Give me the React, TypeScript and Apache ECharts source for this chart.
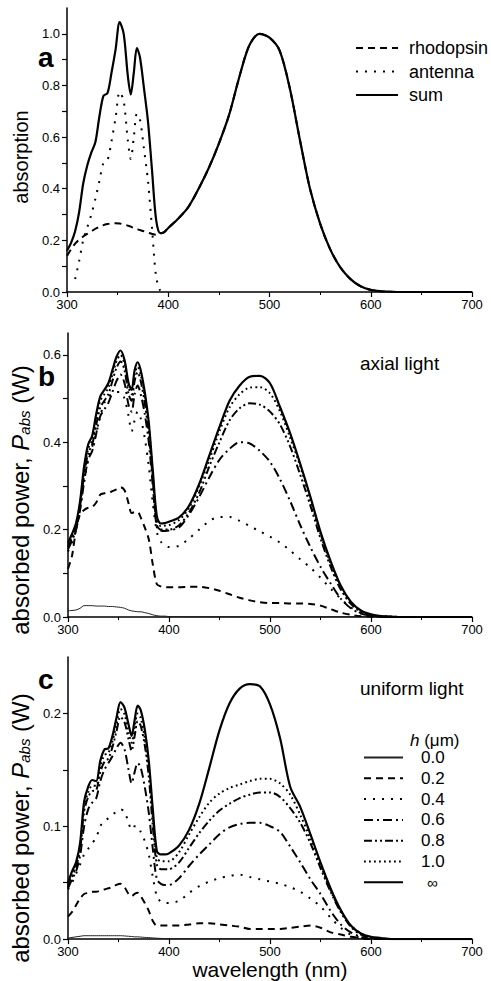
import React, { useEffect, useRef } from "react";
import * as echarts from "echarts";

const FONT = "'Liberation Sans', Arial, Helvetica, sans-serif";

// wavelength grid (nm)
const wavelength = [300,304,308,312,316,320,324,328,332,336,340,344,348,352,356,360,363,366,369,372,376,380,384,388,392,396,400,410,420,430,440,450,460,470,480,490,500,510,520,530,540,550,560,570,580,590,600,610,620,630,640,650,660,670,680,690,700];

// ---- panel a: absorption ----
const aRhodopsin = [0.14,0.165,0.187,0.203,0.215,0.225,0.235,0.245,0.253,0.259,0.263,0.266,0.266,0.265,0.262,0.257,0.253,0.248,0.244,0.24,0.235,0.23,0.225,0.222,0.226,0.232,0.248,
  0.285,0.33,0.40,0.48,0.575,0.685,0.83,0.955,1.0,0.985,0.935,0.79,0.59,0.40,0.265,0.165,0.095,0.05,0.022,0.008,0.003,0.001,0,0,0,0,0,0,0,0];
const aAntenna = [null,null,0.05,0.12,0.2,0.25,0.3,0.36,0.43,0.5,0.51,0.585,0.675,0.775,0.74,0.59,0.515,0.6,0.69,0.67,0.555,0.43,0.245,0.058,0.005,null,null,
  null,null,null,null,null,null,null,null,null,null,null,null,null,null,null,null,null,null,null,null,null,null,null,null,null,null,null,null,null,null];
const aSum = [0.16,0.19,0.235,0.31,0.42,0.49,0.54,0.58,0.68,0.76,0.77,0.85,0.94,1.045,1.0,0.84,0.765,0.85,0.945,0.91,0.79,0.66,0.47,0.28,0.228,0.232,0.248,
  0.285,0.33,0.40,0.48,0.575,0.685,0.83,0.955,1.0,0.985,0.935,0.79,0.59,0.40,0.265,0.165,0.095,0.05,0.022,0.008,0.003,0.001,0,0,0,0,0,0,0,0];

// ---- panel b: axial light, absorbed power (W) ----
const bH00 = [0.014,0.015,0.016,0.02,0.026,0.026,0.026,0.025,0.025,0.025,0.024,0.024,0.023,0.022,0.02,0.016,0.014,0.013,0.012,0.012,0.01,0.008,0.005,0.003,0.002,0.002,0.001,
  0.001,0.001,0.001,0.001,0.001,0.001,0.001,0.001,0.001,0.001,0.001,0.001,0.001,0.001,0.001,0.001,0.001,0.001,0.001,0.001,0.001,0,0,0,0,0,0,0,0,0];
const bH02 = [0.11,0.14,0.2,0.235,0.245,0.25,0.252,0.262,0.28,0.283,0.284,0.288,0.292,0.297,0.29,0.26,0.238,0.24,0.24,0.228,0.205,0.178,0.12,0.075,0.07,0.068,0.068,
  0.068,0.069,0.069,0.066,0.06,0.052,0.044,0.038,0.034,0.032,0.032,0.031,0.031,0.03,0.026,0.018,0.01,0.005,0.002,0.001,0,0,0,0,0,0,0,0,0,0];
const bH04 = [0.15,0.17,0.2,0.25,0.31,0.36,0.39,0.42,0.46,0.49,0.505,0.51,0.515,0.515,0.5,0.46,0.425,0.45,0.47,0.455,0.41,0.345,0.26,0.195,0.172,0.164,0.16,
  0.163,0.18,0.2,0.22,0.229,0.229,0.22,0.208,0.196,0.184,0.17,0.152,0.132,0.113,0.09,0.065,0.042,0.022,0.009,0.003,0.001,0,0,0,0,0,0,0,0,0];
const bH06 = [0.155,0.175,0.2,0.245,0.31,0.36,0.38,0.42,0.46,0.475,0.49,0.515,0.54,0.555,0.535,0.485,0.47,0.51,0.53,0.51,0.465,0.4,0.3,0.205,0.198,0.197,0.198,
  0.205,0.235,0.275,0.32,0.36,0.385,0.4,0.397,0.38,0.355,0.315,0.265,0.21,0.16,0.115,0.077,0.042,0.02,0.008,0.003,0.001,0,0,0,0,0,0,0,0,0];
const bH08 = [0.16,0.18,0.205,0.255,0.325,0.375,0.395,0.44,0.48,0.495,0.51,0.54,0.57,0.585,0.565,0.51,0.495,0.54,0.56,0.54,0.49,0.42,0.315,0.21,0.2,0.2,0.2,
  0.21,0.24,0.285,0.345,0.4,0.45,0.478,0.489,0.486,0.47,0.44,0.39,0.325,0.255,0.18,0.115,0.063,0.03,0.012,0.004,0.001,0,0,0,0,0,0,0,0,0];
const bH10 = [0.165,0.185,0.21,0.26,0.335,0.385,0.405,0.455,0.495,0.51,0.525,0.555,0.585,0.6,0.578,0.525,0.51,0.555,0.573,0.555,0.505,0.435,0.325,0.22,0.208,0.209,0.21,
  0.222,0.25,0.3,0.36,0.425,0.48,0.51,0.525,0.526,0.512,0.47,0.41,0.345,0.268,0.19,0.122,0.068,0.032,0.013,0.005,0.002,0.001,0,0,0,0,0,0,0,0];
const bHInf = [0.17,0.19,0.215,0.265,0.345,0.395,0.415,0.465,0.505,0.52,0.535,0.565,0.595,0.61,0.588,0.535,0.52,0.565,0.583,0.565,0.515,0.445,0.335,0.23,0.214,0.215,0.218,
  0.228,0.255,0.305,0.37,0.435,0.495,0.53,0.55,0.552,0.535,0.48,0.42,0.35,0.275,0.195,0.128,0.072,0.035,0.015,0.006,0.002,0.001,0,0,0,0,0,0,0,0];

// ---- panel c: uniform light, absorbed power (W) ----
const cH00 = [0.001,0.0015,0.002,0.0025,0.003,0.003,0.003,0.003,0.003,0.003,0.003,0.003,0.003,0.003,0.0028,0.0025,0.0023,0.002,0.002,0.0018,0.0015,0.0013,0.001,0.0008,0.0006,0.0005,0.0005,
  0.0005,0.0005,0.0005,0.0005,0.0005,0.0005,0.0005,0.0005,0.0005,0.0005,0.0005,0.0005,0.0005,0.0005,0.0005,0.0005,0.0005,0.0005,0.0005,0.0005,0,0,0,0,0,0,0,0,0,0];
const cH02 = [0.02,0.024,0.03,0.036,0.04,0.041,0.042,0.042,0.043,0.044,0.045,0.046,0.048,0.049,0.046,0.04,0.038,0.04,0.041,0.038,0.032,0.025,0.016,0.012,0.012,0.012,0.012,
  0.012,0.013,0.014,0.014,0.013,0.012,0.011,0.009,0.009,0.009,0.009,0.01,0.011,0.012,0.01,0.006,0.004,0.002,0.001,0,0,0,0,0,0,0,0,0,0,0];
const cH04 = [0.044,0.05,0.058,0.066,0.075,0.08,0.085,0.09,0.1,0.105,0.107,0.11,0.113,0.115,0.113,0.103,0.097,0.1,0.1,0.095,0.087,0.075,0.055,0.038,0.033,0.032,0.032,
  0.034,0.041,0.047,0.051,0.054,0.056,0.057,0.055,0.053,0.051,0.049,0.046,0.042,0.036,0.029,0.019,0.01,0.004,0.001,0,0,0,0,0,0,0,0,0,0,0];
const cH06 = [0.045,0.053,0.06,0.074,0.1,0.115,0.121,0.125,0.14,0.15,0.156,0.162,0.169,0.174,0.168,0.15,0.138,0.148,0.156,0.152,0.135,0.112,0.08,0.053,0.049,0.048,0.048,
  0.054,0.065,0.075,0.084,0.093,0.099,0.102,0.103,0.103,0.1,0.095,0.082,0.068,0.053,0.04,0.025,0.013,0.006,0.002,0,0,0,0,0,0,0,0,0,0,0];
const cH08 = [0.046,0.055,0.064,0.079,0.113,0.126,0.131,0.132,0.148,0.157,0.16,0.17,0.184,0.197,0.192,0.177,0.167,0.18,0.193,0.189,0.172,0.144,0.1,0.066,0.062,0.062,0.062,
  0.068,0.081,0.094,0.105,0.114,0.12,0.125,0.128,0.13,0.13,0.126,0.116,0.103,0.085,0.063,0.042,0.024,0.011,0.004,0.001,0,0,0,0,0,0,0,0,0,0];
const cH10 = [0.048,0.058,0.066,0.082,0.118,0.13,0.136,0.136,0.153,0.163,0.165,0.175,0.19,0.204,0.199,0.183,0.174,0.188,0.2,0.196,0.178,0.15,0.108,0.072,0.069,0.069,0.069,
  0.077,0.093,0.108,0.121,0.129,0.134,0.137,0.14,0.142,0.142,0.138,0.128,0.11,0.089,0.066,0.043,0.025,0.012,0.005,0.001,0,0,0,0,0,0,0,0,0,0];
const cHInf = [0.05,0.06,0.068,0.085,0.122,0.135,0.141,0.14,0.158,0.168,0.169,0.18,0.196,0.21,0.205,0.19,0.18,0.194,0.207,0.203,0.186,0.158,0.115,0.078,0.075,0.075,0.076,
  0.083,0.097,0.12,0.152,0.185,0.209,0.222,0.226,0.224,0.208,0.178,0.135,0.117,0.093,0.068,0.045,0.026,0.012,0.005,0.002,0.001,0,0,0,0,0,0,0,0,0];

// ticks / labels
const yTicksA = [0,0.1,0.2,0.3,0.4,0.5,0.6,0.7,0.8,0.9,1.0];
const yLabelsA = [0,0.2,0.4,0.6,0.8,1.0];
const yTicksB = [0,0.1,0.2,0.3,0.4,0.5,0.6];
const yLabelsB = [0,0.2,0.4,0.6];
const yTicksC = [0,0.05,0.1,0.15,0.2];
const yLabelsC = [0,0.1,0.2];
const legendA = ["rhodopsin", "antenna", "sum"];
const legendC = ["0.0", "0.2", "0.4", "0.6", "0.8", "1.0", "∞"];

const S_THIN = { width: 1, type: "solid" as any, color: "#222" };
const S_DASH = { width: 2, type: [7, 5] as any };
const S_SDOT = { width: 2, type: [2, 7] as any };
const S_DDOT = { width: 2, type: [1.8, 3.2] as any };
const S_DASHDOT = { width: 2, type: [9, 4, 2, 4] as any };
const S_DASHDOTDOT = { width: 2, type: [8, 3, 2, 3, 2, 3] as any };
const S_SOLID = { width: 2.2, type: "solid" as any };

function pairs(ys: (number | null)[]) {
  const out: number[][] = [];
  wavelength.forEach((w, i) => {
    const v = ys[i];
    if (v !== null && v !== undefined) out.push([w, v]);
  });
  return out;
}

function line(name: string, idx: number, ys: (number | null)[], st: any, z: number) {
  return {
    type: "line",
    name,
    xAxisIndex: idx,
    yAxisIndex: idx,
    data: pairs(ys),
    symbol: "none",
    showSymbol: false,
    smooth: 0.3,
    silent: true,
    z,
    color: st.color || "#000",
    itemStyle: { color: st.color || "#000" },
    lineStyle: { color: st.color || "#000", width: st.width, type: st.type, cap: "butt", join: "round" },
    emphasis: { disabled: true },
  };
}

const GRIDS = [
  { left: 67, top: 8, width: 405, height: 284 },
  { left: 67, top: 333, width: 405, height: 284 },
  { left: 67, top: 657, width: 405, height: 285 },
];

function xAxis(i: number) {
  return {
    type: "value",
    gridIndex: i,
    min: 300,
    max: 700,
    interval: 100,
    axisLine: { show: true, onZero: false, lineStyle: { color: "#000", width: 1.5 } },
    axisTick: { show: true, inside: false, length: 5, lineStyle: { color: "#000", width: 1.2 } },
    minorTick: { show: true, splitNumber: 2, length: 3, lineStyle: { color: "#000", width: 1 } },
    splitLine: { show: false },
    minorSplitLine: { show: false },
    axisLabel: { color: "#000", fontSize: 13, margin: 6, fontFamily: FONT },
    name: i === 2 ? "wavelength (nm)" : "",
    nameLocation: "middle",
    nameGap: 15,
    nameTextStyle: { fontSize: 21, color: "#000", fontFamily: FONT },
  };
}

function yAxis(i: number, max: number, ticks: number[], labels: number[], name: string, gap: number, nts: any) {
  return {
    type: "value",
    gridIndex: i,
    min: 0,
    max,
    axisLine: { show: true, onZero: false, lineStyle: { color: "#000", width: 1.5 } },
    axisTick: { show: true, inside: false, length: 5, customValues: ticks, lineStyle: { color: "#000", width: 1.2 } },
    splitLine: { show: false },
    axisLabel: {
      color: "#000",
      fontSize: 13,
      margin: 7,
      fontFamily: FONT,
      customValues: labels,
      formatter: (v: number) => v.toFixed(1),
    },
    name,
    nameLocation: "middle",
    nameGap: gap,
    nameTextStyle: nts,
  };
}

const richPabs = (pad: number) => ({
  fontSize: 24,
  color: "#000",
  fontFamily: FONT,
  padding: [0, pad, 0, 0],
  rich: {
    n: { fontSize: 24, fontFamily: FONT, color: "#000" },
    i: { fontSize: 24, fontFamily: FONT, color: "#000", fontStyle: "italic" },
    s: { fontSize: 15, fontFamily: FONT, color: "#000", fontStyle: "italic", lineHeight: 6, verticalAlign: "bottom" },
  },
});
const PABS = "{n|absorbed power, }{i|P}{s|abs}{n| (W)}";

export default function App() {
  const ref = useRef<HTMLDivElement>(null);
  useEffect(() => {
    if (!ref.current) return;
    const chart = echarts.init(ref.current, null, { renderer: "svg" });
    const legendItemStyle = { color: "rgba(0,0,0,0)", borderWidth: 0, opacity: 0 };
    const option: any = {
      animation: false,
      backgroundColor: "#fff",
      textStyle: { fontFamily: FONT, color: "#000" },
      grid: GRIDS,
      xAxis: [xAxis(0), xAxis(1), xAxis(2)],
      yAxis: [
        yAxis(0, 1.1, yTicksA, yLabelsA, "absorption", 33, { fontSize: 20, color: "#000", fontFamily: FONT, padding: [0, 14, 0, 0] }),
        yAxis(1, 0.65, yTicksB, yLabelsB, PABS, 29, richPabs(50)),
        yAxis(2, 0.25, yTicksC, yLabelsC, PABS, 29, richPabs(60)),
      ],
      legend: [
        {
          data: legendA,
          orient: "vertical",
          left: 355,
          top: 39,
          padding: 0,
          itemWidth: 42,
          itemHeight: 14,
          itemGap: 5.5,
          selectedMode: false,
          itemStyle: legendItemStyle,
          textStyle: { fontSize: 18, lineHeight: 18, color: "#000", fontFamily: FONT, padding: [0, 0, 0, 6] },
        },
        {
          data: legendC,
          orient: "vertical",
          left: 363,
          top: 749,
          padding: 0,
          itemWidth: 39,
          itemHeight: 14,
          itemGap: 3.8,
          selectedMode: false,
          itemStyle: legendItemStyle,
          formatter: (n: string) => (n === "∞" ? "{inf|∞}" : n),
          textStyle: {
            fontSize: 17,
            lineHeight: 17,
            color: "#000",
            fontFamily: FONT,
            padding: [0, 0, 0, 13],
            rich: { inf: { fontSize: 15, fontFamily: FONT, color: "#000", padding: [0, 0, 0, 6] } },
          },
        },
      ],
      graphic: [
        { type: "text", x: 38, y: 57, style: { text: "a", fontSize: 28, lineHeight: 20, fontWeight: "bold", fontFamily: FONT, fill: "#000", align: "left", verticalAlign: "middle" } },
        { type: "text", x: 38, y: 376, style: { text: "b", fontSize: 28, lineHeight: 20, fontWeight: "bold", fontFamily: FONT, fill: "#000", align: "left", verticalAlign: "middle" } },
        { type: "text", x: 38, y: 679, style: { text: "c", fontSize: 28, lineHeight: 20, fontWeight: "bold", fontFamily: FONT, fill: "#000", align: "left", verticalAlign: "middle" } },
        { type: "text", x: 360, y: 363, style: { text: "axial light", fontSize: 19, fontFamily: FONT, fill: "#000", align: "left", verticalAlign: "middle" } },
        { type: "text", x: 360, y: 688, style: { text: "uniform light", fontSize: 19, fontFamily: FONT, fill: "#000", align: "left", verticalAlign: "middle" } },
        {
          type: "text",
          x: 410,
          y: 740,
          style: {
            text: "{i|h} (μm)",
            fontSize: 17,
            fontFamily: FONT,
            fill: "#000",
            align: "left",
            verticalAlign: "middle",
            rich: { i: { fontSize: 17, fontFamily: FONT, fill: "#000", fontStyle: "italic" } },
          },
        },
      ],
      series: [
        line("rhodopsin", 0, aRhodopsin, S_DASH, 2),
        line("antenna", 0, aAntenna, S_SDOT, 3),
        line("sum", 0, aSum, S_SOLID, 4),

        line("b0.0", 1, bH00, S_THIN, 2),
        line("b0.2", 1, bH02, S_DASH, 2),
        line("b0.4", 1, bH04, S_SDOT, 2),
        line("b0.6", 1, bH06, S_DASHDOT, 2),
        line("b0.8", 1, bH08, S_DASHDOTDOT, 2),
        line("b1.0", 1, bH10, S_DDOT, 3),
        line("b∞", 1, bHInf, S_SOLID, 4),

        line("0.0", 2, cH00, S_THIN, 2),
        line("0.2", 2, cH02, S_DASH, 2),
        line("0.4", 2, cH04, S_SDOT, 2),
        line("0.6", 2, cH06, S_DASHDOT, 2),
        line("0.8", 2, cH08, S_DASHDOTDOT, 2),
        line("1.0", 2, cH10, S_DDOT, 3),
        line("∞", 2, cHInf, S_SOLID, 4),
      ],
    };
    chart.setOption(option);
    return () => chart.dispose();
  }, []);
  return (
    <div
      ref={ref}
      style={{ position: "absolute", left: 0, top: 0, width: 491, height: 981, background: "#fff" }}
    />
  );
}
